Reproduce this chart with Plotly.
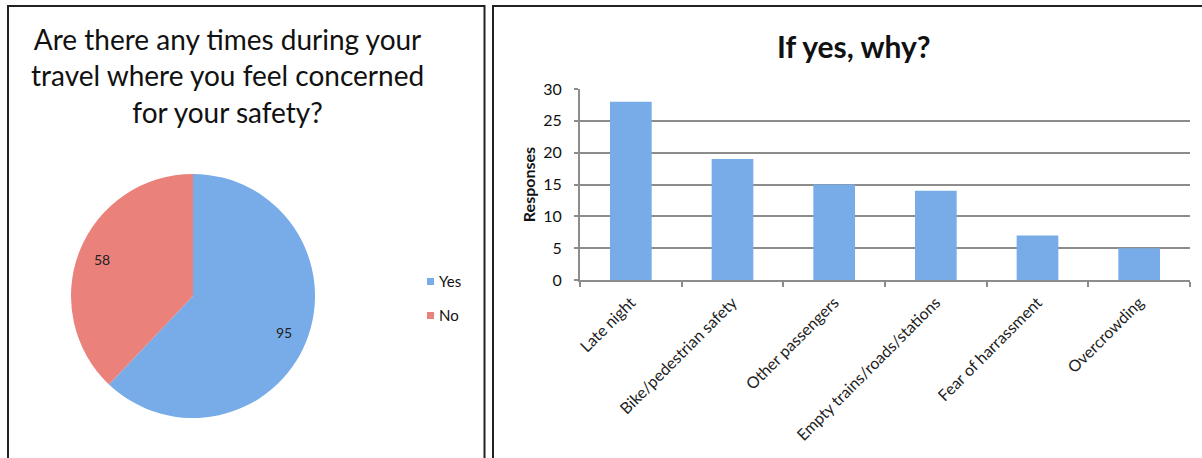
import numpy as np
import plotly.graph_objects as go

W, H = 1202, 458

# Data
pie_labels = ["Yes", "No"]
pie_values = [95, 58]
pie_colors = ["#78ace8", "#ea817a"]

categories = ["Late night", "Bike/pedestrian safety", "Other passengers",
              "Empty trains/roads/stations", "Fear of harrassment", "Overcrowding"]
responses = [28, 19, 15, 14, 7, 5]
y_ticks = [0, 5, 10, 15, 20, 25, 30]

FONT = "Lato"

def px(x):
    return x / W

def py(y):
    return 1 - y / H

# pie geometry (pixels)
PCX, PCY, PR = 193, 296, 122

fig = go.Figure()

fig.add_trace(go.Pie(
    labels=pie_labels, values=pie_values,
    sort=False, direction="clockwise", rotation=0,
    marker=dict(colors=pie_colors, line=dict(width=0)),
    textinfo="none",
    showlegend=False,
    domain=dict(x=[px(PCX - PR), px(PCX + PR)], y=[py(PCY + PR), py(PCY - PR)]),
    hoverinfo="label+value",
))

fig.add_trace(go.Bar(
    x=categories, y=responses,
    marker=dict(color="#78ace8", line=dict(width=0)),
    width=0.41, showlegend=False,
    xaxis="x", yaxis="y",
))

# value labels placed at the mid-angle of each slice
annotations = []
total = float(sum(pie_values))
start = 0.0
for v in pie_values:
    mid = start + v / total * 360 / 2
    start += v / total * 360
    ang = np.deg2rad(mid)
    lx = PCX + 0.8 * PR * np.sin(ang)
    ly = PCY - 0.8 * PR * np.cos(ang)
    annotations.append(dict(text=str(v), xref="paper", yref="paper",
                            x=px(lx), y=py(ly), xanchor="center", yanchor="middle",
                            showarrow=False,
                            font=dict(family=FONT, size=14, color="#222")))

annotations += [
    dict(text="Are there any times during your<br>travel where you feel concerned<br>for your safety?",
         xref="paper", yref="paper", x=px(227), y=py(20), xanchor="center", yanchor="top",
         showarrow=False, align="center",
         font=dict(family=FONT, size=28, color="#111")),
    dict(text="<b>If yes, why?</b>",
         xref="paper", yref="paper", x=px(854), y=py(46), xanchor="center", yanchor="middle",
         showarrow=False, font=dict(family=FONT, size=30, color="#111")),
    dict(text=pie_labels[0], xref="paper", yref="paper", x=px(437), y=py(281),
         xanchor="left", yanchor="middle", showarrow=False,
         font=dict(family=FONT, size=15, color="#111")),
    dict(text=pie_labels[1], xref="paper", yref="paper", x=px(437), y=py(315),
         xanchor="left", yanchor="middle", showarrow=False,
         font=dict(family=FONT, size=15, color="#111")),
]

fig.update_layout(
    width=W, height=H,
    autosize=False,
    margin=dict(l=0, r=0, t=0, b=0, pad=0, autoexpand=False),
    paper_bgcolor="white", plot_bgcolor="white",
    font=dict(family=FONT, color="#111"),
    xaxis=dict(
        domain=[px(580), px(1190)],
        anchor="y",
        type="category",
        tickangle=-45,
        tickfont=dict(family=FONT, size=16, color="#222"),
        ticks="outside", tickson="boundaries", ticklen=5,
        tickcolor="#8c8c8c", tickwidth=2,
        ticklabelstandoff=5,
        showline=True, linecolor="#8c8c8c", linewidth=2,
        showgrid=False, automargin=False,
    ),
    yaxis=dict(
        domain=[py(280), py(89)],
        anchor="x",
        range=[0, 30],
        tickvals=y_ticks,
        tickfont=dict(family=FONT, size=16, color="#111"),
        ticks="outside", ticklen=4, tickcolor="#8c8c8c", tickwidth=2,
        ticklabelstandoff=9,
        showline=True, linecolor="#8c8c8c", linewidth=2,
        showgrid=True, gridcolor="#8c8c8c", gridwidth=2,
        zeroline=False, automargin=False,
        title=dict(text="<b>Responses</b>", font=dict(family=FONT, size=16, color="#111"),
                   standoff=4),
    ),
    shapes=[
        dict(type="rect", xref="paper", yref="paper",
             x0=px(8), x1=px(484.5), y0=-0.05, y1=py(6),
             line=dict(color="#222", width=2), fillcolor="rgba(0,0,0,0)"),
        dict(type="rect", xref="paper", yref="paper",
             x0=px(493), x1=1.05, y0=-0.05, y1=py(6),
             line=dict(color="#222", width=2), fillcolor="rgba(0,0,0,0)"),
        dict(type="rect", xref="paper", yref="paper",
             x0=px(427), x1=px(434), y0=py(285), y1=py(278),
             line=dict(width=0), fillcolor=pie_colors[0]),
        dict(type="rect", xref="paper", yref="paper",
             x0=px(427), x1=px(434), y0=py(319), y1=py(312),
             line=dict(width=0), fillcolor=pie_colors[1]),
    ],
    annotations=annotations,
)

fig.write_html("out.html")
